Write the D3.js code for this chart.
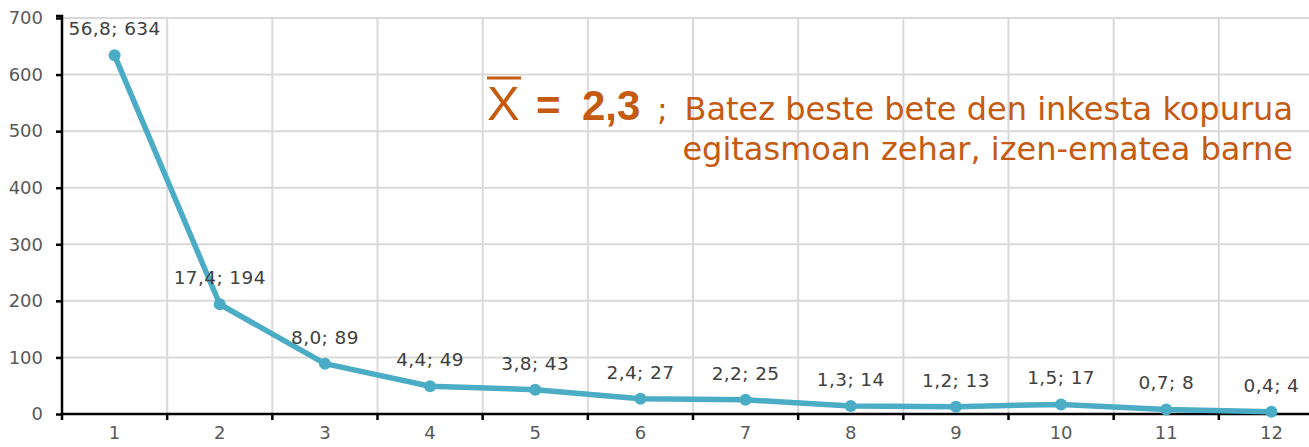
<!DOCTYPE html>
<html>
<head>
<meta charset="utf-8">
<script src="https://cdn.jsdelivr.net/npm/d3@7"></script>
<style>
  body { margin: 0; background: #fff; }
  svg { display: block; }
</style>
</head>
<body>
<script>
//this is our data
var categories = [1, 2, 3, 4, 5, 6, 7, 8, 9, 10, 11, 12];
var counts = [634, 194, 89, 49, 43, 27, 25, 14, 13, 17, 8, 4];
var percents = ["56,8", "17,4", "8,0", "4,4", "3,8", "2,4", "2,2", "1,3", "1,2", "1,5", "0,7", "0,4"];
var yTicks = [0, 100, 200, 300, 400, 500, 600, 700];

var width = 1309, height = 447;
var lineColor = "#4BACC6";
var noteColor = "#C55A11";
var textColor = "#595959";
var font = "Verdana, 'DejaVu Sans', sans-serif";

//svg container
var svgContainer = d3.select("body").append("svg")
                                    .attr("width", width)
                                    .attr("height", height);

//the plot runs past the right edge of the picture, like the original
var x = d3.scaleBand().domain(categories).range([62, 1324]);
var y = d3.scaleLinear().domain([0, 700]).range([414, 18]);

//horizontal gridlines
svgContainer.selectAll("line.hgrid").data(yTicks.slice(1)).enter().append("line")
  .attr("class", "hgrid")
  .attr("x1", x.range()[0]).attr("x2", x.range()[1])
  .attr("y1", function (d) { return y(d); })
  .attr("y2", function (d) { return y(d); })
  .style("stroke", "#d9d9d9").style("stroke-width", 2);

//vertical gridlines between categories
svgContainer.selectAll("line.vgrid").data(categories.slice(1)).enter().append("line")
  .attr("class", "vgrid")
  .attr("x1", function (d) { return x(d); })
  .attr("x2", function (d) { return x(d); })
  .attr("y1", y(700)).attr("y2", y(0))
  .style("stroke", "#d9d9d9").style("stroke-width", 2);

//y axis
var yAxis = svgContainer.append("g")
  .attr("transform", "translate(" + x.range()[0] + ",0)")
  .call(d3.axisLeft(y).tickValues(yTicks).tickSize(6).tickPadding(13));

//x axis, ticks sit on the band edges
var xAxis = svgContainer.append("g")
  .attr("transform", "translate(0," + y(0) + ")")
  .call(d3.axisBottom(x).tickSize(0).tickPadding(12));

xAxis.selectAll("line.edge").data(categories.concat([13])).enter().append("line")
  .attr("class", "edge")
  .attr("x1", function (d) { return d === 13 ? x.range()[1] : x(d); })
  .attr("x2", function (d) { return d === 13 ? x.range()[1] : x(d); })
  .attr("y1", 0).attr("y2", 6)
  .style("stroke", "#000").style("stroke-width", 2.5);

[yAxis, xAxis].forEach(function (g) {
  g.select(".domain").style("stroke", "#000").style("stroke-width", 2.5);
  g.selectAll(".tick line").style("stroke", "#000").style("stroke-width", 2.5);
  g.selectAll(".tick text")
    .style("font-family", font).style("font-size", "18px").style("fill", textColor);
});
xAxis.select(".domain").attr("d", "M" + x.range()[0] + ",0H" + x.range()[1]);
yAxis.select(".domain").attr("d", "M-6," + (y(700) - 2) + "H0V" + y(0));

//the line
var line = d3.line()
  .x(function (d, i) { return x(categories[i]) + x.bandwidth() / 2; })
  .y(function (d) { return y(d); });

svgContainer.append("path")
  .datum(counts)
  .attr("d", line)
  .style("fill", "none")
  .style("stroke", lineColor)
  .style("stroke-width", 5.5)
  .style("stroke-linejoin", "round");

//points
svgContainer.selectAll("circle").data(counts).enter().append("circle")
  .attr("cx", function (d, i) { return x(categories[i]) + x.bandwidth() / 2; })
  .attr("cy", function (d) { return y(d); })
  .attr("r", 6)
  .style("fill", lineColor);

//value labels "percent; count"
svgContainer.selectAll("text.lbl").data(counts).enter().append("text")
  .attr("class", "lbl")
  .attr("x", function (d, i) { return x(categories[i]) + x.bandwidth() / 2; })
  .attr("y", function (d) { return y(d) - 20; })
  .attr("text-anchor", "middle")
  .style("font-family", font).style("font-size", "18.5px")
  .style("letter-spacing", "0.4px").style("fill", "#404040")
  .text(function (d, i) { return percents[i] + "; " + d; });

//mean note
var note = svgContainer.append("g").style("fill", noteColor);

note.append("text")
  .attr("x", 487).attr("y", 120)
  .style("font-family", "'Liberation Sans', Arial, sans-serif")
  .style("font-size", "49px")
  .text("X");

//bar over the X
note.append("line")
  .attr("x1", 487).attr("x2", 521)
  .attr("y1", 78).attr("y2", 78)
  .style("stroke", noteColor).style("stroke-width", 3);

note.append("text")
  .attr("y", 120)
  .style("font-family", "'Liberation Sans', Arial, sans-serif")
  .style("font-size", "42px").style("font-weight", "bold")
  .selectAll("tspan").data([["=", 536], ["2,3", 582]]).enter().append("tspan")
  .attr("x", function (d) { return d[1]; })
  .text(function (d) { return d[0]; });

note.append("text")
  .attr("x", 657).attr("y", 120)
  .style("font-family", font).style("font-size", "32px")
  .text(";");

note.selectAll("text.desc").data(["Batez beste bete den inkesta kopurua", "egitasmoan zehar, izen-ematea barne"])
  .enter().append("text")
  .attr("class", "desc")
  .attr("x", 1293)
  .attr("y", function (d, i) { return 120 + i * 39.5; })
  .attr("text-anchor", "end")
  .style("font-family", font).style("font-size", "32px")
  .text(function (d) { return d; });
</script>
</body>
</html>
